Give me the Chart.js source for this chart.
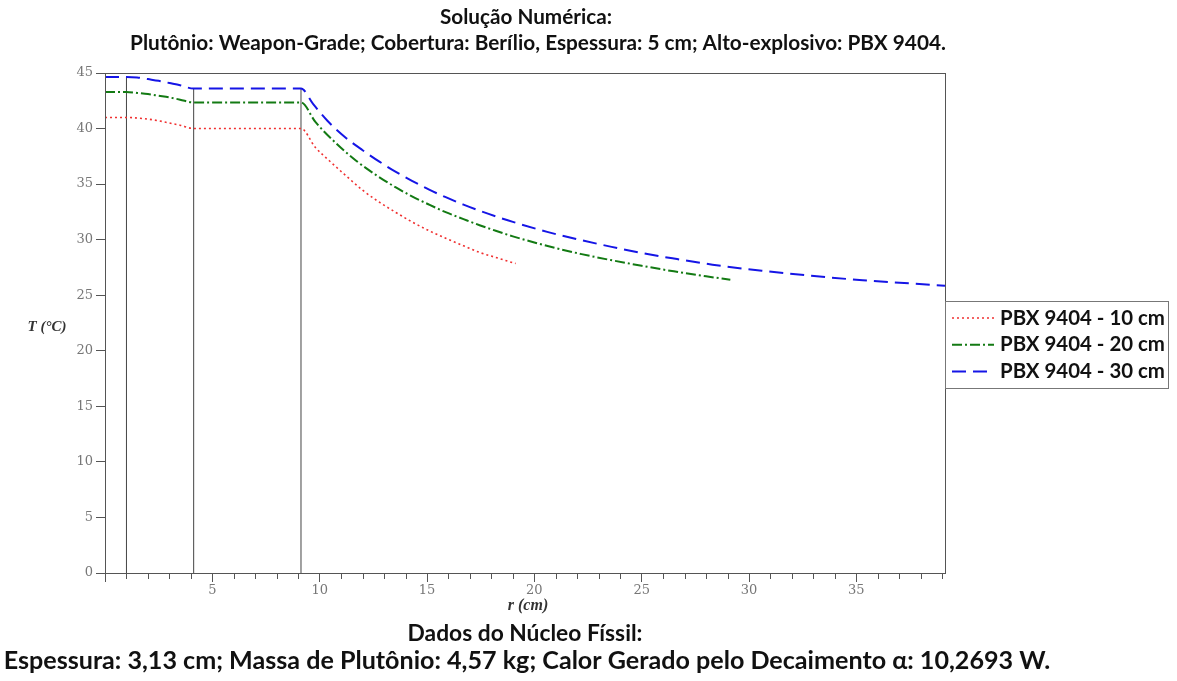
<!DOCTYPE html>
<html lang="pt">
<head>
<meta charset="UTF-8">
<title>Solução Numérica</title>
<script src="https://cdn.jsdelivr.net/npm/chart.js"></script>
<style>
    body { margin: 0; background: #fff; }
    canvas { display: block; }
</style>
</head>
<body>
<canvas id="chart" width="1177" height="681"></canvas>
<script>
// --- data ---
const r10 = [0, 1, 1.5, 2, 2.5, 3, 3.5, 4.13, 9.13, 9.8, 10.45, 11.2, 12, 12.8, 13.55, 14.3, 15.1, 15.9, 16.7, 17.45, 18.2, 19.13];
const t10 = [41.0, 41.0, 40.95, 40.85, 40.7, 40.5, 40.3, 40.0, 40.0, 38.3, 37.1, 35.8, 34.45, 33.35, 32.45, 31.6, 30.8, 30.1, 29.45, 28.85, 28.4, 27.85];

const r20 = [0, 1, 1.5, 2, 2.5, 3, 3.5, 4.13, 9.13, 9.8, 10.75, 11.7, 12.6, 13.55, 14.3, 15.1, 15.9, 16.7, 17.45, 18.2, 19, 20, 21.3, 22.2, 23.6, 25, 26.5, 28, 29.13];
const t20 = [43.3, 43.3, 43.2, 43.1, 42.95, 42.8, 42.6, 42.35, 42.35, 40.6, 38.7, 37.1, 35.85, 34.7, 33.9, 33.15, 32.45, 31.85, 31.3, 30.8, 30.3, 29.75, 29.1, 28.7, 28.15, 27.65, 27.15, 26.7, 26.4];

const r30 = [0, 1, 1.5, 2, 2.5, 3, 3.5, 4.13, 9.13, 9.7, 10.36, 11.2, 12, 12.8, 13.55, 14.3, 15.1, 15.9, 16.7, 17.45, 18.2, 19, 20.6, 22.2, 23.6, 25, 26.5, 28.3, 30.6, 32.9, 35.3, 37.6, 39.13];
const t30 = [44.65, 44.65, 44.6, 44.45, 44.3, 44.1, 43.9, 43.6, 43.6, 42.2, 40.7, 39.2, 38.05, 37.0, 36.1, 35.3, 34.5, 33.8, 33.15, 32.6, 32.1, 31.6, 30.7, 29.95, 29.35, 28.8, 28.3, 27.75, 27.2, 26.75, 26.35, 26.05, 25.85];

// material interfaces (cavidade / plutônio / berílio / explosivo)
const interfaceR = [1, 4.13, 9.13];
const interfaceTop = [44.65, 43.6, 43.6];

const seriesLabels = ['PBX 9404 - 10 cm', 'PBX 9404 - 20 cm', 'PBX 9404 - 30 cm'];
const yTicks = [0, 5, 10, 15, 20, 25, 30, 35, 40, 45];
const xMax = 39.13;

const titleLines = ['Solução Numérica:', 'Plutônio: Weapon-Grade; Cobertura: Berílio, Espessura: 5 cm; Alto-explosivo: PBX 9404.'];
const footLines = ['Dados do Núcleo Físsil:', 'Espessura: 3,13 cm; Massa de Plutônio: 4,57 kg; Calor Gerado pelo Decaimento α: 10,2693 W.'];

function pts(xs, ys) {
    return xs.map((x, i) => ({ x: x, y: ys[i] }));
}

const curves = [
    { label: seriesLabels[0], data: pts(r10, t10), borderColor: '#f03030', borderWidth: 1.6, borderDash: [2, 3] },
    { label: seriesLabels[1], data: pts(r20, t20), borderColor: '#137a13', borderWidth: 2, borderDash: [10, 3, 2, 3] },
    { label: seriesLabels[2], data: pts(r30, t30), borderColor: '#1515e6', borderWidth: 2, borderDash: [14, 7] }
].map(d => Object.assign(d, { pointRadius: 0, fill: false, cubicInterpolationMode: 'monotone' }));

const walls = interfaceR.map((x, i) => ({
    label: 'interface',
    data: [{ x: x, y: 0 }, { x: x, y: interfaceTop[i] }],
    borderColor: '#444',
    borderWidth: 1,
    pointRadius: 0
}));

// fit a bold text line to a given width
function fitText(ctx, text, cx, cy, width, family) {
    ctx.font = 'bold 20px ' + family;
    const size = 20 * width / ctx.measureText(text).width;
    ctx.font = 'bold ' + size.toFixed(2) + 'px ' + family;
    ctx.textAlign = 'center';
    ctx.textBaseline = 'middle';
    ctx.fillText(text, cx, cy);
}

const decor = {
    id: 'decor',
    afterDraw(chart) {
        const ctx = chart.ctx;
        const a = chart.chartArea;
        const xs = chart.scales.x;
        ctx.save();

        // frame
        ctx.strokeStyle = '#555';
        ctx.lineWidth = 1;
        ctx.strokeRect(Math.round(a.left) + 0.5, Math.round(a.top) + 0.5, Math.round(a.right - a.left), Math.round(a.bottom - a.top));

        // minor ticks on r
        ctx.beginPath();
        for (let v = 1; v < xMax; v++) {
            if (v % 5 === 0) continue;
            const px = Math.round(xs.getPixelForValue(v)) + 0.5;
            ctx.moveTo(px, a.bottom);
            ctx.lineTo(px, a.bottom + 6);
        }
        ctx.stroke();

        // axis titles
        ctx.fillStyle = '#333';
        ctx.textAlign = 'center';
        ctx.textBaseline = 'middle';
        ctx.font = 'bold italic 16px "Liberation Serif"';
        ctx.fillText('r (cm)', (a.left + a.right) / 2 + 3, 606);
        ctx.font = 'bold italic 15px "Liberation Serif"';
        ctx.fillText('T (°C)', 47, 327);

        // titles
        ctx.fillStyle = '#111';
        fitText(ctx, titleLines[0], 526, 17, 172, 'Lato');
        fitText(ctx, titleLines[1], 538, 43, 816, 'Lato');
        fitText(ctx, footLines[0], 525, 634, 235, 'Lato');
        fitText(ctx, footLines[1], 527, 661, 1047, 'Lato');

        // legend
        const lx = Math.round(a.right) + 0.5, ly = 301.5, lw = 223, lh = 87;
        ctx.fillStyle = '#fff';
        ctx.fillRect(lx, ly, lw, lh);
        ctx.strokeStyle = '#777';
        ctx.strokeRect(lx, ly, lw, lh);
        curves.forEach((d, i) => {
            const y = 318 + i * 26.7;
            ctx.strokeStyle = d.borderColor;
            ctx.lineWidth = d.borderWidth;
            ctx.setLineDash(d.borderDash);
            ctx.beginPath();
            ctx.moveTo(952, y);
            ctx.lineTo(994, y);
            ctx.stroke();
            ctx.setLineDash([]);
            ctx.fillStyle = '#111';
            ctx.font = 'bold 20px Lato';
            const size = 20 * 165 / ctx.measureText(d.label).width;
            ctx.font = 'bold ' + size.toFixed(2) + 'px Lato';
            ctx.textAlign = 'left';
            ctx.textBaseline = 'middle';
            ctx.fillText(d.label, 1000, y);
        });
        ctx.restore();
    }
};

new Chart(document.getElementById('chart'), {
    type: 'line',
    data: { datasets: curves.concat(walls) },
    options: {
        responsive: false,
        animation: false,
        layout: { padding: { left: 0, top: 73, right: 232, bottom: 78 } },
        plugins: { legend: { display: false }, tooltip: { enabled: false } },
        scales: {
            x: {
                type: 'linear',
                min: 0,
                max: xMax,
                afterFit(scale) { scale.height = 30; },
                border: { display: true, color: '#555' },
                grid: { drawOnChartArea: false, tickLength: 9, tickColor: '#555' },
                ticks: {
                    stepSize: 5,
                    includeBounds: false,
                    padding: 1,
                    color: '#777',
                    font: { family: '"DejaVu Serif"', size: 13 },
                    maxRotation: 0,
                    callback: v => (v === 0 ? '' : v)
                }
            },
            y: {
                type: 'linear',
                min: yTicks[0],
                max: yTicks[yTicks.length - 1],
                afterFit(scale) { scale.width = 105; },
                afterBuildTicks(scale) { scale.ticks = yTicks.map(v => ({ value: v })); },
                border: { display: true, color: '#555' },
                grid: { drawOnChartArea: false, tickLength: 9, tickColor: '#555' },
                ticks: {
                    padding: 3,
                    color: '#777',
                    font: { family: '"DejaVu Serif"', size: 13 }
                }
            }
        }
    },
    plugins: [decor]
});
</script>
</body>
</html>
